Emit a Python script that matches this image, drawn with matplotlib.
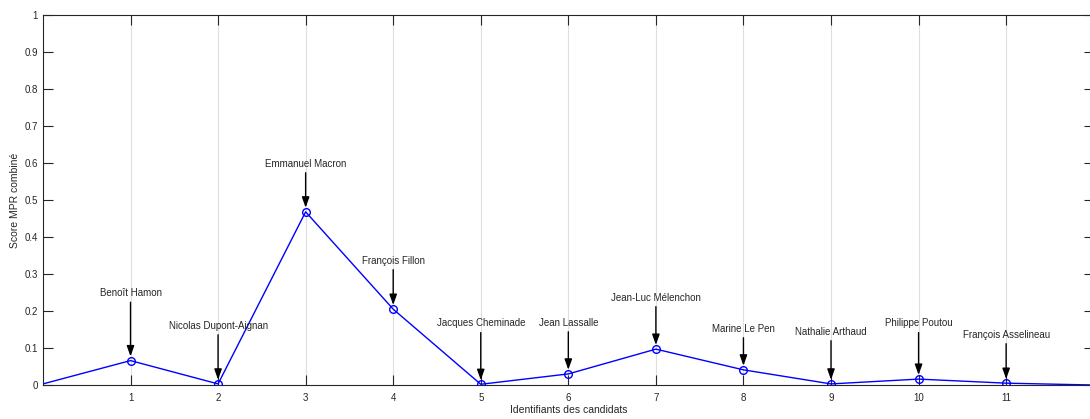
import matplotlib
matplotlib.use("Agg")
import matplotlib.pyplot as plt
import numpy as np

# --- Data --------------------------------------------------------------------
ids = [0, 1, 2, 3, 4, 5, 6, 7, 8, 9, 10, 11, 12]
scores = [0.003, 0.066, 0.003, 0.468, 0.205, 0.002, 0.030, 0.097, 0.041,
          0.003, 0.016, 0.005, 0.0]
candidates = ["Benoît Hamon", "Nicolas Dupont-Aignan", "Emmanuel Macron",
              "François Fillon", "Jacques Cheminade", "Jean Lassalle",
              "Jean-Luc Mélenchon", "Marine Le Pen", "Nathalie Arthaud",
              "Philippe Poutou", "François Asselineau"]
# height of each label (data units)
label_y = [0.235, 0.147, 0.585, 0.323, 0.153, 0.155, 0.223, 0.139, 0.131,
           0.153, 0.123]

plt.rcParams['font.family'] = ['Liberation Sans', 'DejaVu Sans']

fig = plt.figure(figsize=(10.9, 4.19), dpi=100)
ax = fig.add_axes([0.0394, 0.0811, 0.964, 0.8831])

# line through all points, circles only on the candidates
ax.plot(ids, scores, '-', color='#0000ff', lw=1.0, zorder=3)
ax.plot(ids[1:-1], scores[1:-1], 'o', color='#0000ff', mfc='none',
        ms=5.5, mew=1.0, zorder=4)

for i, name in enumerate(candidates):
    x = ids[i + 1]
    y = scores[i + 1]
    ax.annotate(name, xy=(x, y), xytext=(x, label_y[i]),
                textcoords='data', ha='center', va='bottom', fontsize=7,
                color='#262626',
                arrowprops=dict(arrowstyle='-|>,head_length=0.9,head_width=0.32',
                                color='black', lw=1.0, shrinkA=1, shrinkB=3),
                zorder=5)

ax.set_xlim(0, 12)
ax.set_ylim(0, 1)
ax.set_xticks(range(1, 12))
ax.set_yticks(np.arange(0, 1.01, 0.1))
ax.set_yticklabels(['0', '0.1', '0.2', '0.3', '0.4', '0.5', '0.6', '0.7',
                    '0.8', '0.9', '1'])
ax.tick_params(direction='in', length=7, width=0.8, labelsize=7,
               colors='#262626', top=True, right=True)
ax.tick_params(axis='x', pad=6)
ax.grid(axis='x', color='#dfdfdf', lw=0.8)
ax.set_axisbelow(True)
for s in ax.spines.values():
    s.set_color('#262626')
    s.set_linewidth(0.8)

ax.set_xlabel('Identifiants des candidats', fontsize=7.5, color='#262626',
              labelpad=1.5)
ax.set_ylabel('Score MPR combiné', fontsize=7.5, color='#262626', labelpad=3)

fig.savefig('out.png', dpi=100)
